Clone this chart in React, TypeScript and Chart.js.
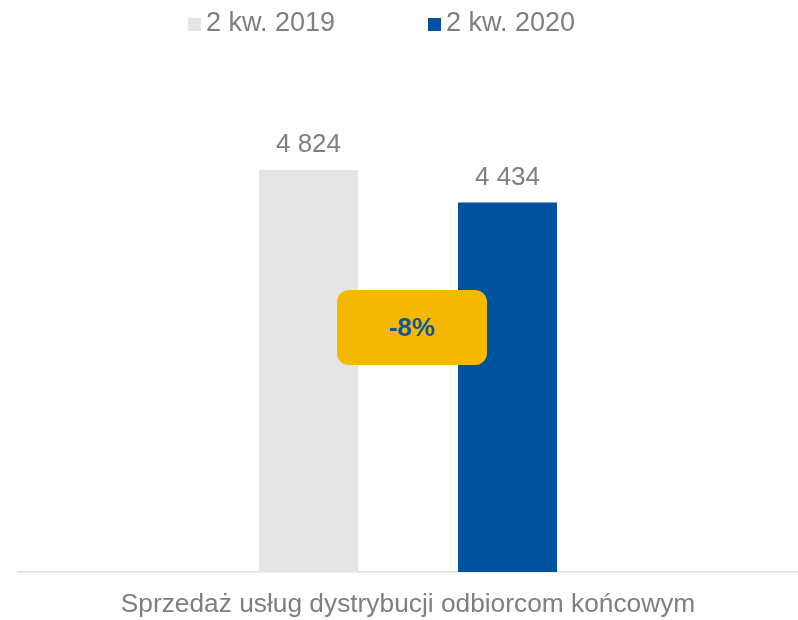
import React, { useEffect, useRef } from "react";
import { Chart, registerables } from "chart.js";

Chart.register(...registerables);

const categories = ["Sprzedaż usług dystrybucji odbiorcom końcowym"];
const seriesLabels = ["2 kw. 2019", "2 kw. 2020"];
const values2019 = [4824];
const values2020 = [4434];
const valueLabels2019 = ["4 824"];
const valueLabels2020 = ["4 434"];
const changeLabel = "-8%";
const changeAnchorValue = 2934;
const yMin = 0;
const yMax = 6000;

const FONT = '"Liberation Sans", Arial, Helvetica, sans-serif';
const GRAY_TEXT = "#7f7f7f";
const COLOR_2019 = "#e5e5e5";
const COLOR_2020 = "#00519e";
const BADGE_FILL = "#f5b800";
const BADGE_TEXT = "#0b56a2";

const valueLabelSets = [valueLabels2019, valueLabels2020];

const overlayPlugin = {
  id: "overlay",
  afterDatasetsDraw(chart: any) {
    const ctx: CanvasRenderingContext2D = chart.ctx;
    ctx.save();

    // value labels above bars
    ctx.font = `26px ${FONT}`;
    ctx.fillStyle = GRAY_TEXT;
    ctx.textAlign = "center";
    ctx.textBaseline = "alphabetic";
    chart.data.datasets.forEach((_ds: any, di: number) => {
      const meta = chart.getDatasetMeta(di);
      meta.data.forEach((bar: any, i: number) => {
        ctx.fillText(valueLabelSets[di][i], bar.x, bar.y - 18);
      });
    });

    // change badge
    const xs = chart.scales.x;
    const ys = chart.scales.y;
    const cx = xs.getPixelForValue(0) + 4;
    const cy = ys.getPixelForValue(changeAnchorValue);
    const w = 150;
    const h = 75;
    const r = 12;
    const x0 = cx - w / 2;
    const y0 = cy - h / 2;
    ctx.beginPath();
    ctx.moveTo(x0 + r, y0);
    ctx.lineTo(x0 + w - r, y0);
    ctx.arcTo(x0 + w, y0, x0 + w, y0 + r, r);
    ctx.lineTo(x0 + w, y0 + h - r);
    ctx.arcTo(x0 + w, y0 + h, x0 + w - r, y0 + h, r);
    ctx.lineTo(x0 + r, y0 + h);
    ctx.arcTo(x0, y0 + h, x0, y0 + h - r, r);
    ctx.lineTo(x0, y0 + r);
    ctx.arcTo(x0, y0, x0 + r, y0, r);
    ctx.closePath();
    ctx.fillStyle = BADGE_FILL;
    ctx.fill();
    ctx.font = `bold 26px ${FONT}`;
    ctx.fillStyle = BADGE_TEXT;
    ctx.textAlign = "center";
    ctx.textBaseline = "middle";
    ctx.fillText(changeLabel, cx, cy + 1);

    // legend
    ctx.font = `27px ${FONT}`;
    ctx.textAlign = "left";
    ctx.textBaseline = "alphabetic";
    const box = 13;
    const boxGap = 5;
    const itemGap = 93;
    const colors = chart.data.datasets.map((d: any) => d.backgroundColor);
    const widths = seriesLabels.map((t) => box + boxGap + ctx.measureText(t).width);
    const total = widths.reduce((a, b) => a + b, 0) + itemGap * (widths.length - 1);
    let x = chart.width / 2 - 17.5 - total / 2;
    const baseline = 31;
    seriesLabels.forEach((t, i) => {
      ctx.fillStyle = colors[i];
      ctx.fillRect(x, baseline - box, box, box);
      ctx.fillStyle = GRAY_TEXT;
      ctx.fillText(t, x + box + boxGap, baseline);
      x += widths[i] + itemGap;
    });

    ctx.restore();
  },
};

export default function App() {
  const canvasRef = useRef<HTMLCanvasElement | null>(null);

  useEffect(() => {
    if (!canvasRef.current) return;
    const chart = new Chart(canvasRef.current, {
      type: "bar",
      data: {
        labels: categories,
        datasets: [
          {
            label: seriesLabels[0],
            data: values2019,
            backgroundColor: COLOR_2019,
            borderWidth: 0,
            categoryPercentage: 0.5103,
            barPercentage: 0.4975,
          },
          {
            label: seriesLabels[1],
            data: values2020,
            backgroundColor: COLOR_2020,
            borderWidth: 0,
            categoryPercentage: 0.5103,
            barPercentage: 0.4975,
          },
        ],
      },
      options: {
        responsive: false,
        animation: false,
        devicePixelRatio: 1,
        layout: { padding: { top: 72, left: 18, right: 0, bottom: 0 } },
        plugins: {
          legend: { display: false },
          tooltip: { enabled: false },
          title: { display: false },
        },
        scales: {
          x: {
            grid: { display: false, drawTicks: false },
            border: { display: true, color: "#d9dde4", width: 1.5 },
            afterFit: (scale: any) => {
              scale.height = 48;
            },
            ticks: {
              color: GRAY_TEXT,
              padding: 18,
              font: { family: FONT, size: 26.3, lineHeight: 1.15 },
              maxRotation: 0,
              autoSkip: false,
            },
          },
          y: {
            display: false,
            min: yMin,
            max: yMax,
            grid: { display: false },
          },
        },
      },
      plugins: [overlayPlugin],
    } as any);
    return () => chart.destroy();
  }, []);

  return (
    <div style={{ position: "absolute", left: 0, top: 0, width: 798, height: 620, background: "#ffffff" }}>
      <canvas ref={canvasRef} width={798} height={620} style={{ width: 798, height: 620, display: "block" }} />
    </div>
  );
}
